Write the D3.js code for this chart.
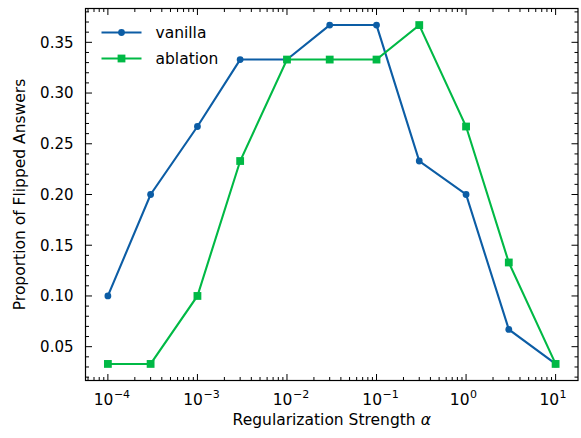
<!DOCTYPE html>
<html>
<head>
<meta charset="utf-8">
<script src="https://cdn.jsdelivr.net/npm/d3@7"></script>
<style>
  body { margin: 0; background: #fff; }
  svg { display: block; }
  svg text { font-family: "DejaVu Sans", sans-serif; fill: #000; }
</style>
</head>
<body>
<div id="chart"></div>
<script>
//data
const alphas = [1e-4, 3e-4, 1e-3, 3e-3, 1e-2, 3e-2, 1e-1, 3e-1, 1, 3, 10];
const vanilla = [0.100, 0.200, 0.267, 0.333, 0.333, 0.367, 0.367, 0.233, 0.200, 0.067, 0.033];
const ablation = [0.033, 0.033, 0.100, 0.233, 0.333, 0.333, 0.333, 0.367, 0.267, 0.133, 0.033];
const seriesNames = ["vanilla", "ablation"];
const xTickExps = [-4, -3, -2, -1, 0, 1];
const yTicks = [0.05, 0.10, 0.15, 0.20, 0.25, 0.30, 0.35];
const xLabel = "Regularization Strength";
const xLabelSymbol = "\u03b1";
const yLabel = "Proportion of Flipped Answers";

//size
const width = 581, height = 438;
const margin = { top: 8.5, right: 3, bottom: 57.5, left: 85.5 };
const innerWidth = width - margin.left - margin.right;
const innerHeight = height - margin.top - margin.bottom;
const colors = ["#0C5DA5", "#00B945"];

//scale
const xScale = d3.scaleLog().domain([Math.pow(10, -4.25), Math.pow(10, 1.25)]).range([0, innerWidth]);
const yScale = d3.scaleLinear().domain([0.01667, 0.38333]).range([innerHeight, 0]);

const svg = d3.select("#chart").append("svg")
  .attr("width", width)
  .attr("height", height);
const g = svg.append("g").attr("transform", `translate(${margin.left},${margin.top})`);

//ticks (inward, all four sides)
const majorLen = 6.5, minorLen = 3.5;
const xMinor = [];
for (let e = -5; e <= 1; e++) {
  for (let m = 2; m <= 9; m++) {
    const v = m * Math.pow(10, e);
    if (v > xScale.domain()[0] && v < xScale.domain()[1]) xMinor.push(v);
  }
}
const yMinor = d3.range(2, 39).map((d) => d / 100).filter((v) => Math.round(v * 100) % 5 !== 0);
const tickG = g.append("g").attr("stroke", "#000").attr("stroke-width", 1);

function xTicks(vals, len) {
  vals.forEach((v) => {
    const x = xScale(v);
    tickG.append("line").attr("x1", x).attr("x2", x).attr("y1", innerHeight).attr("y2", innerHeight - len);
    tickG.append("line").attr("x1", x).attr("x2", x).attr("y1", 0).attr("y2", len);
  });
}
function yTicksDraw(vals, len) {
  vals.forEach((v) => {
    const y = yScale(v);
    tickG.append("line").attr("x1", 0).attr("x2", len).attr("y1", y).attr("y2", y);
    tickG.append("line").attr("x1", innerWidth).attr("x2", innerWidth - len).attr("y1", y).attr("y2", y);
  });
}
xTicks(xTickExps.map((e) => Math.pow(10, e)), majorLen);
xTicks(xMinor, minorLen);
yTicksDraw(yTicks, majorLen);
yTicksDraw(yMinor, minorLen);

//tick labels
g.append("g").selectAll("text")
  .data(yTicks)
  .join("text")
  .attr("x", -12)
  .attr("y", (d) => yScale(d))
  .attr("dy", "0.36em")
  .attr("text-anchor", "end")
  .attr("font-size", 15)
  .text((d) => d.toFixed(2));

const xlG = g.append("g");
xlG.selectAll("text.base")
  .data(xTickExps)
  .join("text")
  .attr("class", "base")
  .attr("x", (d) => xScale(Math.pow(10, d)) + (d < 0 ? 5.5 : 3.5))
  .attr("y", innerHeight + 24.5)
  .attr("text-anchor", "end")
  .attr("font-size", 15.5)
  .text("10");
xlG.selectAll("text.exp")
  .data(xTickExps)
  .join("text")
  .attr("class", "exp")
  .attr("x", (d) => xScale(Math.pow(10, d)) + (d < 0 ? 6 : 4))
  .attr("y", innerHeight + 17)
  .attr("text-anchor", "start")
  .attr("font-size", 11)
  .text((d) => (d < 0 ? "\u2212" + Math.abs(d) : d));

//frame
g.append("rect")
  .attr("width", innerWidth)
  .attr("height", innerHeight)
  .attr("fill", "none")
  .attr("stroke", "#000")
  .attr("stroke-width", 1.2);

//axis labels
const xt1 = svg.append("text")
  .attr("y", 425)
  .attr("font-size", 15.5)
  .text(xLabel);
const xt2 = svg.append("text")
  .attr("y", 425)
  .attr("font-size", 15.5)
  .attr("font-style", "italic")
  .text(xLabelSymbol);
const gap = 5;
const w1 = xt1.node().getComputedTextLength();
const w2 = xt2.node().getComputedTextLength();
const x0 = margin.left + innerWidth / 2 - (w1 + gap + w2) / 2;
xt1.attr("x", x0);
xt2.attr("x", x0 + w1 + gap);

svg.append("text")
  .attr("transform", `translate(25,${margin.top + innerHeight / 2}) rotate(-90)`)
  .attr("text-anchor", "middle")
  .attr("font-size", 15.5)
  .text(yLabel);

//lines + markers
const line = d3.line().x((d) => xScale(d[0])).y((d) => yScale(d[1]));
[vanilla, ablation].forEach((vals, i) => {
  const pts = alphas.map((a, j) => [a, vals[j]]);
  const sg = g.append("g");
  sg.append("path")
    .attr("d", line(pts))
    .attr("fill", "none")
    .attr("stroke", colors[i])
    .attr("stroke-width", 2.1);
  if (i === 0) {
    sg.selectAll("circle").data(pts).join("circle")
      .attr("cx", (d) => xScale(d[0]))
      .attr("cy", (d) => yScale(d[1]))
      .attr("r", 3.4)
      .attr("fill", colors[i]);
  } else {
    sg.selectAll("rect").data(pts).join("rect")
      .attr("x", (d) => xScale(d[0]) - 3.9)
      .attr("y", (d) => yScale(d[1]) - 3.9)
      .attr("width", 7.8)
      .attr("height", 7.8)
      .attr("fill", colors[i]);
  }
});

//legend
const legY = [32.5, 58.5];
const leg = svg.append("g");
seriesNames.forEach((name, i) => {
  const y = legY[i];
  leg.append("line")
    .attr("x1", 101.5).attr("x2", 141.5)
    .attr("y1", y).attr("y2", y)
    .attr("stroke", colors[i]).attr("stroke-width", 2.1);
  if (i === 0) {
    leg.append("circle").attr("cx", 121.5).attr("cy", y).attr("r", 3.4).attr("fill", colors[i]);
  } else {
    leg.append("rect").attr("x", 121.5 - 3.9).attr("y", y - 3.9).attr("width", 7.8).attr("height", 7.8).attr("fill", colors[i]);
  }
  leg.append("text")
    .attr("x", 155.5)
    .attr("y", y)
    .attr("dy", "0.34em")
    .attr("font-size", 15.5)
    .text(name);
});
</script>
</body>
</html>
